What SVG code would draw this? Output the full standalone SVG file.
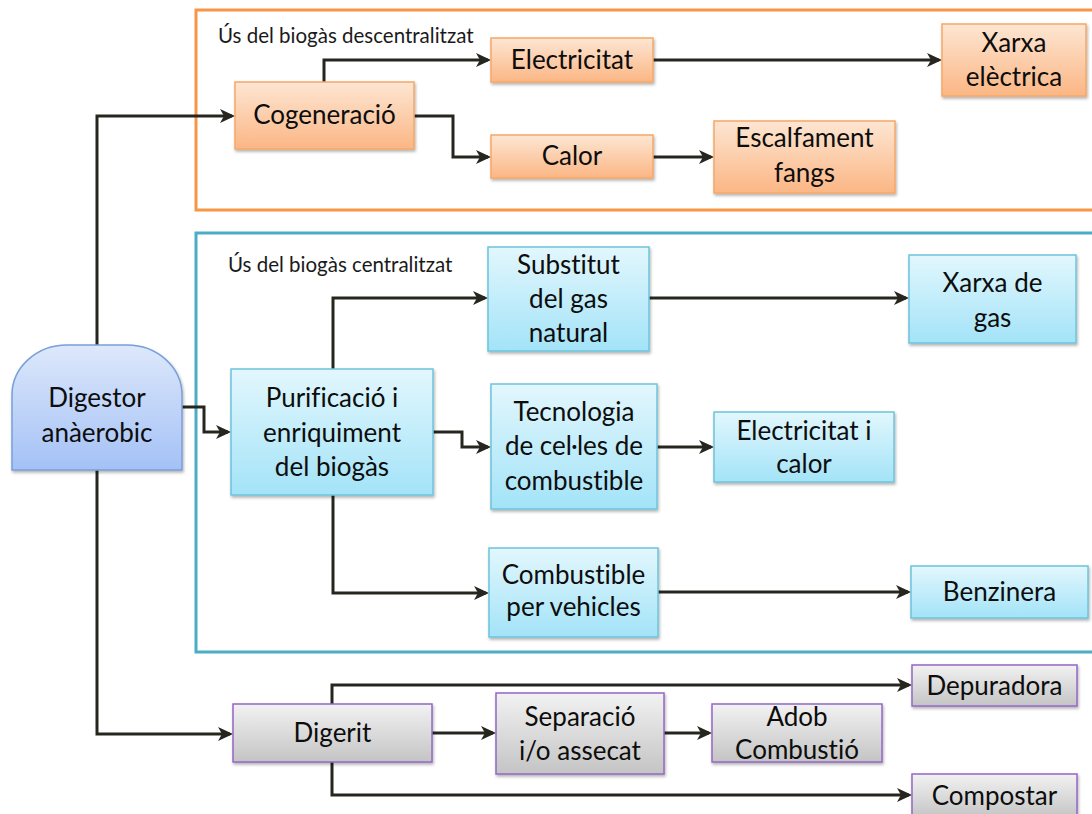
<svg xmlns="http://www.w3.org/2000/svg" width="1092" height="814" viewBox="0 0 1092 814">
<defs>
<linearGradient id="gO" x1="0" y1="0" x2="0" y2="1"><stop offset="0" stop-color="#fde6d3"/><stop offset="1" stop-color="#fbb684"/></linearGradient>
<linearGradient id="gB" x1="0" y1="0" x2="0" y2="1"><stop offset="0" stop-color="#e2f7fd"/><stop offset="1" stop-color="#a3e3f8"/></linearGradient>
<linearGradient id="gG" x1="0" y1="0" x2="0" y2="1"><stop offset="0" stop-color="#f2f2f2"/><stop offset="1" stop-color="#c4c4c4"/></linearGradient>
<linearGradient id="gD" x1="0" y1="0" x2="0" y2="1"><stop offset="0" stop-color="#dde8fb"/><stop offset="1" stop-color="#a4c1f6"/></linearGradient>
<filter id="sh" x="-10%" y="-10%" width="130%" height="140%"><feDropShadow dx="1" dy="2" stdDeviation="1.5" flood-color="#000" flood-opacity="0.3"/></filter>
<marker id="ar" markerUnits="userSpaceOnUse" markerWidth="16" markerHeight="16" refX="12" refY="7" orient="auto"><path d="M0,0 L15,7 L0,14 L4,7 Z" fill="#26261f"/></marker>
</defs>
<style>
.t{font-family:Lato,"Liberation Sans",sans-serif;font-size:26px;fill:#0d0d0d;text-anchor:middle;font-variant-ligatures:none}
.lab{font-family:Lato,"Liberation Sans",sans-serif;font-size:20.5px;fill:#1a1a1a;font-variant-ligatures:none}
.o{fill:url(#gO);stroke:#f6a766;stroke-width:1.5;filter:url(#sh)}
.b{fill:url(#gB);stroke:#6cc4dc;stroke-width:1.5;filter:url(#sh)}
.g{fill:url(#gG);stroke:#9466c6;stroke-width:1.5;filter:url(#sh)}
.c{fill:none;stroke:#26261f;stroke-width:3;marker-end:url(#ar)}
</style>
<g id="frames">
<rect x="196" y="10" width="1000" height="200" fill="none" stroke="#f79646" stroke-width="3"/>
<rect x="196" y="233" width="1000" height="419" fill="none" stroke="#4bacc6" stroke-width="3"/>
<text class="lab" x="218" y="43">Ús del biogàs descentralitzat</text>
<text class="lab" x="228" y="272">Ús del biogàs centralitzat</text>
</g>
<g id="connectors">
<path class="c" d="M97,345 V116 H232"/>
<path class="c" d="M324,82 V60 H488"/>
<path class="c" d="M414,116 H453 V157 H488"/>
<path class="c" d="M653,60 H939"/>
<path class="c" d="M653,157 H711"/>
<path class="c" d="M182,407 H204 V432 H228"/>
<path class="c" d="M333,369 V298 H485"/>
<path class="c" d="M433,432 H462 V447 H488"/>
<path class="c" d="M657,447 H711"/>
<path class="c" d="M333,495 V593 H486"/>
<path class="c" d="M649,298 H906"/>
<path class="c" d="M658,592 H908"/>
<path class="c" d="M97,470 V734 H230"/>
<path class="c" d="M332,704 V685 H909"/>
<path class="c" d="M432,733 H493"/>
<path class="c" d="M664,733 H709"/>
<path class="c" d="M332,762 V795 H909"/>
</g>
<g id="digestor">
<path d="M12,470 V395 A55,50 0 0 1 67,345 H127 A55,50 0 0 1 182,395 V470 Z" fill="url(#gD)" stroke="#7a9fd8" stroke-width="1.5" filter="url(#sh)"/>
<text class="t" x="97" y="407">Digestor</text>
<text class="t" x="97" y="442">anàerobic</text>
</g>
<g id="cogeneracio">
<rect class="o" x="235" y="82" width="179" height="67"/>
<text class="t" x="324.5" y="124">Cogeneració</text>
</g>
<g id="electricitat">
<rect class="o" x="491" y="38" width="162" height="44"/>
<text class="t" x="572" y="69">Electricitat</text>
</g>
<g id="calor">
<rect class="o" x="491" y="135" width="162" height="43"/>
<text class="t" x="572" y="165">Calor</text>
</g>
<g id="xarxa-electrica">
<rect class="o" x="942" y="24" width="144" height="72"/>
<text class="t" x="1014" y="52">Xarxa</text>
<text class="t" x="1014" y="86">elèctrica</text>
</g>
<g id="escalfament">
<rect class="o" x="714" y="121" width="181" height="72"/>
<text class="t" x="804.5" y="147">Escalfament</text>
<text class="t" x="804.5" y="182">fangs</text>
</g>
<g id="substitut">
<rect class="b" x="488" y="247" width="161" height="104"/>
<text class="t" x="568.5" y="274">Substitut</text>
<text class="t" x="568.5" y="308">del gas</text>
<text class="t" x="568.5" y="342">natural</text>
</g>
<g id="purificacio">
<rect class="b" x="231" y="369" width="202" height="126"/>
<text class="t" x="332" y="407">Purificació i</text>
<text class="t" x="332" y="442">enriquiment</text>
<text class="t" x="332" y="476">del biogàs</text>
</g>
<g id="tecnologia">
<rect class="b" x="491" y="384" width="166" height="125"/>
<text class="t" x="574" y="421">Tecnologia</text>
<text class="t" x="574" y="455">de cel·les de</text>
<text class="t" x="574" y="490">combustible</text>
</g>
<g id="xarxa-gas">
<rect class="b" x="909" y="255" width="167" height="88"/>
<text class="t" x="992.5" y="292">Xarxa de</text>
<text class="t" x="992.5" y="327">gas</text>
</g>
<g id="elec-calor">
<rect class="b" x="714" y="412" width="180" height="70"/>
<text class="t" x="804" y="440">Electricitat i</text>
<text class="t" x="804" y="473">calor</text>
</g>
<g id="combustible">
<rect class="b" x="489" y="548" width="169" height="89"/>
<text class="t" x="573.5" y="584">Combustible</text>
<text class="t" x="573.5" y="616">per vehicles</text>
</g>
<g id="benzinera">
<rect class="b" x="911" y="566" width="177" height="52"/>
<text class="t" x="999.5" y="601">Benzinera</text>
</g>
<g id="digerit">
<rect class="g" x="233" y="704" width="199" height="58"/>
<text class="t" x="332.5" y="742">Digerit</text>
</g>
<g id="separacio">
<rect class="g" x="496" y="693" width="168" height="81"/>
<text class="t" x="580" y="726">Separació</text>
<text class="t" x="580" y="760">i/o assecat</text>
</g>
<g id="adob">
<rect class="g" x="712" y="704" width="170" height="58"/>
<text class="t" x="797" y="726">Adob</text>
<text class="t" x="797" y="759">Combustió</text>
</g>
<g id="depuradora">
<rect class="g" x="912" y="665" width="165" height="41"/>
<text class="t" x="994.5" y="695">Depuradora</text>
</g>
<g id="compostar">
<rect class="g" x="912" y="774" width="165" height="44"/>
<text class="t" x="994.5" y="805">Compostar</text>
</g>
</svg>
